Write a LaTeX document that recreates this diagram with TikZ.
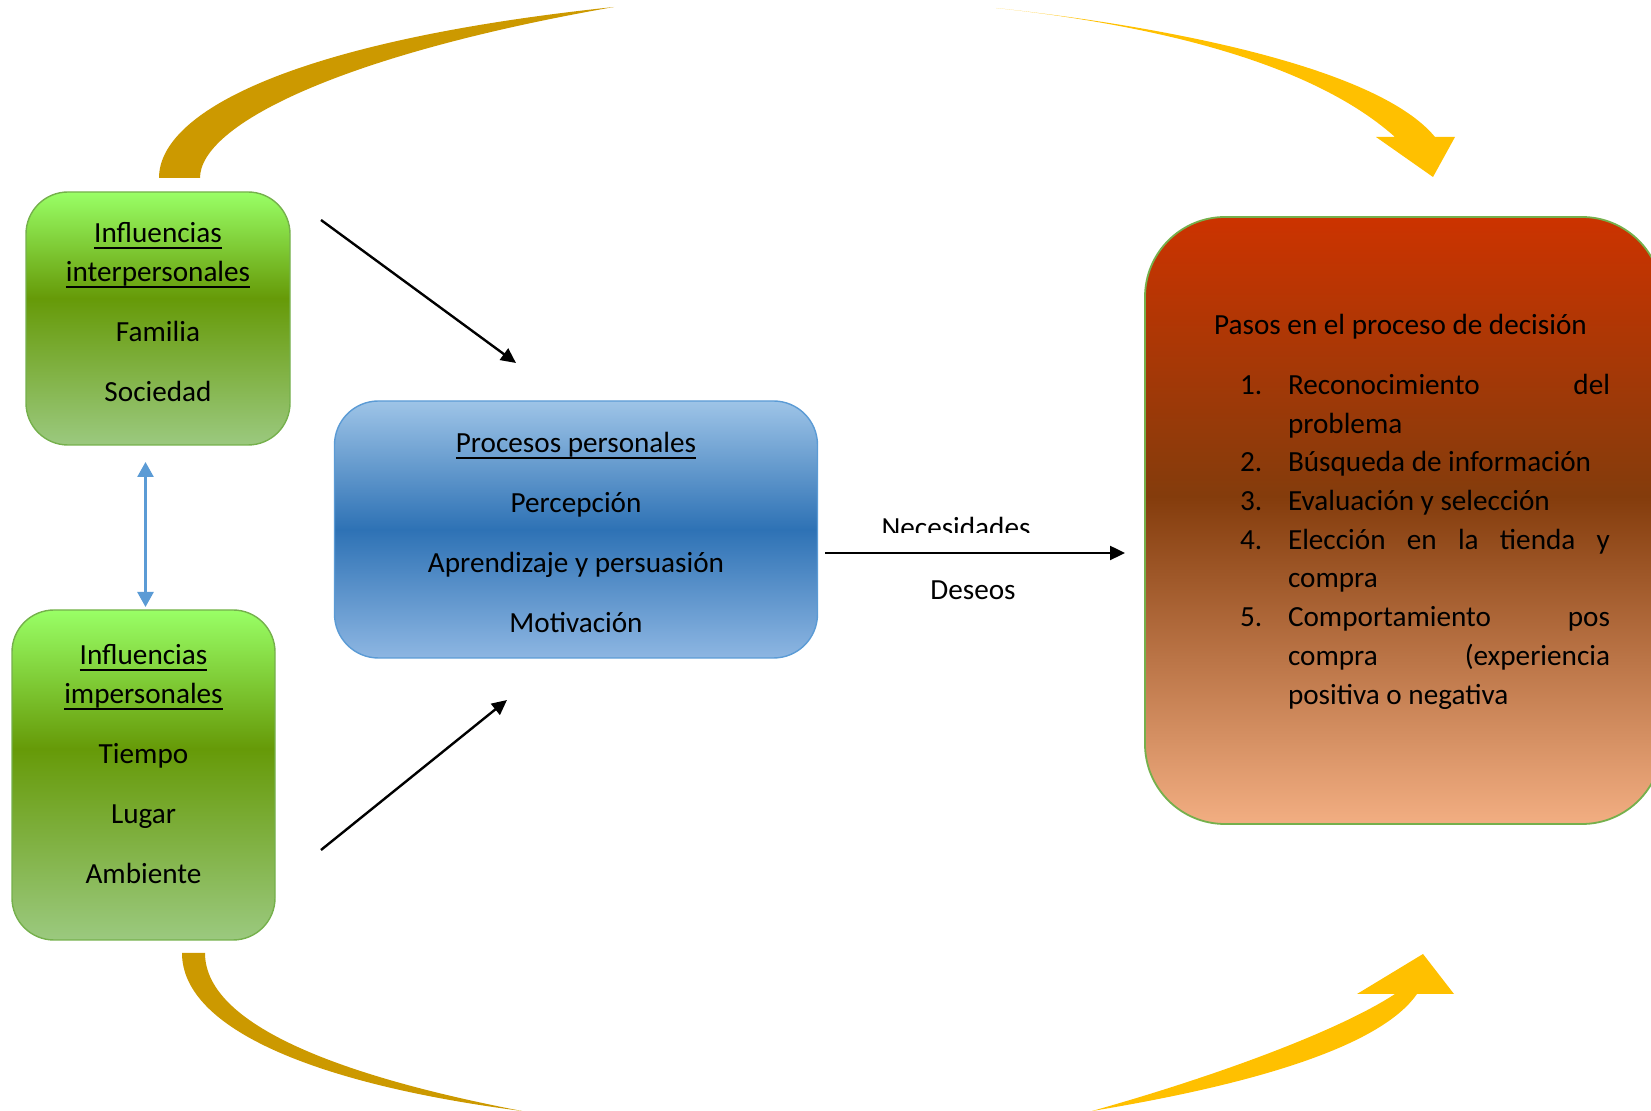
\documentclass[tikz,border=0pt]{standalone}
\usepackage{fontspec}
\setmainfont{Carlito}
\usetikzlibrary{arrows.meta}
\definecolor{gTop}{HTML}{99FF66}
\definecolor{gMid}{HTML}{669A08}
\definecolor{gBot}{HTML}{9BC97F}
\definecolor{gLine}{HTML}{75B04C}
\definecolor{bTop}{HTML}{9EC4E7}
\definecolor{bMid}{HTML}{2E72B5}
\definecolor{bBot}{HTML}{8DB6E2}
\definecolor{bLine}{HTML}{5B9BD5}
\definecolor{rTop}{HTML}{CC3300}
\definecolor{rMid}{HTML}{843C0C}
\definecolor{rBot}{HTML}{F2AE82}
\definecolor{darkGold}{HTML}{CC9900}
\definecolor{brightGold}{HTML}{FFC000}
\pgfdeclareverticalshading{greenshade}{100bp}{color(0bp)=(gBot); color(25bp)=(gBot); color(54bp)=(gMid); color(75bp)=(gTop); color(100bp)=(gTop)}
\pgfdeclareverticalshading{blueshade}{100bp}{color(0bp)=(bBot); color(25bp)=(bBot); color(50bp)=(bMid); color(75bp)=(bTop); color(100bp)=(bTop)}
\pgfdeclareverticalshading{redshade}{100bp}{color(0bp)=(rBot); color(25bp)=(rBot); color(52bp)=(rMid); color(75bp)=(rTop); color(100bp)=(rTop)}
\newcommand{\ulx}[1]{\setbox0=\hbox{#1}\rlap{\rule[-2.8pt]{\wd0}{1pt}}\box0}
\begin{document}
\begin{tikzpicture}[x=0.5pt,y=-0.5pt,
  every node/.style={font=\fontsize{14.6pt}{17.5pt}\selectfont, inner sep=0pt, outer sep=0pt},
  txt/.style={anchor=base, text=black},
  ltxt/.style={anchor=base west, text=black},
  greenbox/.style={draw=gLine, line width=0.7pt, rounded corners=21pt, shade, shading=greenshade},
  bluebox/.style={draw=bLine, line width=0.7pt, rounded corners=22pt, shade, shading=blueshade},
  redbox/.style={draw=gLine, line width=0.9pt, rounded corners=40pt, shade, shading=redshade},
  blackarrow/.style={line width=1.2pt, -{Triangle[length=7.5pt,width=7pt]}},
  bluearrow/.style={draw=bLine, line width=1.3pt, {Triangle[length=7.5pt,width=8pt]}-{Triangle[length=7.5pt,width=8pt]}}
]
\useasboundingbox (0,0) rectangle (1651,1111);
\begin{scope}
\clip (0,0) rectangle (1651,1111);

% curved arrows
\fill[darkGold] (159,178) .. controls (159,110) and (300,40) .. (614,7)
  .. controls (340,55) and (200,125) .. (200,178) -- cycle;
\fill[brightGold] (996,8) .. controls (1180,28) and (1380,70) .. (1435,137)
  -- (1455,137) -- (1433,177) -- (1376,137) -- (1395,137)
  .. controls (1320,70) and (1180,28) .. (996,8) -- cycle;
\fill[darkGold] (182,953) .. controls (182,1030) and (320,1085) .. (522,1111)
  .. controls (360,1080) and (205,1030) .. (205,953) -- cycle;
\fill[brightGold] (1092,1111) .. controls (1280,1080) and (1385,1040) .. (1417,994)
  -- (1454,994) -- (1423,954) -- (1357,994) -- (1395,994)
  .. controls (1340,1030) and (1220,1075) .. (1092,1111) -- cycle;

% boxes
\node[greenbox, minimum width=132pt, minimum height=126.5pt] (inter) at (158,318.5) {};
\node[greenbox, minimum width=131.5pt, minimum height=165pt] (imper) at (143.5,775) {};
\node[bluebox, minimum width=241.5pt, minimum height=128.5pt] (proc) at (576,529.5) {};
\node[redbox, minimum width=258.5pt, minimum height=303.5pt] (pasos) at (1403.5,520.5) {};

% green box 1 text
\node[txt] (i1) at (158,243) {\ulx{Influencias}};
\node[txt] (i2) at (158,282) {\ulx{interpersonales}};
\node[txt] (i3) at (158,342) {Familia};
\node[txt] (i4) at (158,402) {Sociedad};

% green box 2 text
\node[txt] (m1) at (143.5,665) {\ulx{Influencias}};
\node[txt] (m2) at (143.5,704) {\ulx{impersonales}};
\node[txt] (m3) at (143.5,764) {Tiempo};
\node[txt] (m4) at (143.5,824) {Lugar};
\node[txt] (m5) at (143.5,884) {Ambiente};

% blue box text
\node[txt] (p1) at (576,453) {\ulx{Procesos personales}};
\node[txt] (p2) at (576,513) {Percepción};
\node[txt] (p3) at (576,573) {Aprendizaje y persuasión};
\node[txt] (p4) at (576,633) {Motivación};

% red box text
\node[txt] (r0) at (1400.5,335) {Pasos en el proceso de decisión};
\node[ltxt] (n1) at (1240,395) {1.};
\node[ltxt] (l1) at (1288,395) {\hbox to 161pt{Reconocimiento\hfill del}};
\node[ltxt] (l2) at (1288,434) {problema};
\node[ltxt] (n2) at (1240,472) {2.};
\node[ltxt] (l3) at (1288,472) {Búsqueda de información};
\node[ltxt] (n3) at (1240,511) {3.};
\node[ltxt] (l4) at (1288,511) {Evaluación y selección};
\node[ltxt] (n4) at (1240,550) {4.};
\node[ltxt] (l5) at (1288,550) {\hbox to 161pt{Elección\hfill en\hfill la\hfill tienda\hfill y}};
\node[ltxt] (l6) at (1288,588) {compra};
\node[ltxt] (n5) at (1240,627) {5.};
\node[ltxt] (l7) at (1288,627) {\hbox to 161pt{Comportamiento\hfill pos}};
\node[ltxt] (l8) at (1288,666) {\hbox to 161pt{compra\hfill (experiencia}};
\node[ltxt] (l9) at (1288,705) {positiva o negativa};

% connectors
\coordinate (a1s) at (321,220);
\coordinate (a1e) at (516,363);
\coordinate (a2s) at (321,850);
\coordinate (a2e) at (507,700);
\coordinate (a3s) at (825,553);
\coordinate (a3e) at (1125,553);
\coordinate (dTop) at (145.5,462);
\coordinate (dBot) at (145.5,607);
\draw[blackarrow] (a1s) -- (a1e);
\draw[blackarrow] (a2s) -- (a2e);
\draw[blackarrow] (a3s) -- (a3e);
\draw[bluearrow] (dTop) -- (dBot);

% labels
\begin{scope}
\clip (850,480) rectangle (1060,533);
\node[txt] (nec) at (956,538) {Necesidades};
\end{scope}
\node[txt] (des) at (973,600) {Deseos};
\end{scope}
\end{tikzpicture}
\end{document}
